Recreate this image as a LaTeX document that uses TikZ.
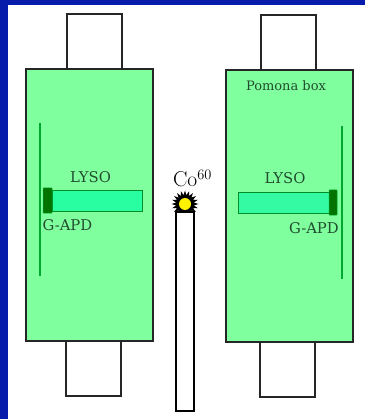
\documentclass[tikz,border=0pt]{standalone}
\usepackage{fontspec}
\newfontfamily\labelfont{DejaVu Serif}
\usetikzlibrary{shapes.geometric}
\definecolor{FrameClr}{rgb}{0.03,0.11,0.67}
\definecolor{BoxClr}{rgb}{0.50,1,0.62}
\definecolor{LysoClr}{rgb}{0.16,1,0.63}
\definecolor{LysoTwoClr}{rgb}{0.20,0.98,0.64}
\definecolor{ApdClr}{rgb}{0,0.45,0}
\definecolor{ShieldClr}{rgb}{0,0.66,0.18}
\definecolor{TextClr}{rgb}{0.13,0.30,0.18}
\tikzset{
  boxline/.style={draw=black!85,line width=1.7pt},
  handle/.style={draw=black!85,line width=1.5pt,fill=white},
  lyso/.style={draw=ShieldClr!85!black,line width=.7pt},
  apd/.style={fill=ApdClr,draw=ShieldClr,line width=.5pt,rounded corners=.5pt},
  shield/.style={draw=ShieldClr,line width=2pt},
  lbl/.style={font=\labelfont\fontsize{14.8}{16}\selectfont,text=TextClr,inner sep=0pt}
}

\begin{document}
\begin{tikzpicture}[x=1pt,y=-1pt]
\useasboundingbox (0,0) rectangle (365,419);
\fill[white] (0,0) rectangle (365,419);
\fill[FrameClr] (0,0) rectangle (365,5);
\fill[FrameClr] (0,0) rectangle (8,419);

% left counter
\draw[handle] (67,14) rectangle (122,69);
\draw[handle] (66,341) rectangle (121,396);
\draw[boxline,fill=BoxClr] (26,69) rectangle (153,341);
\draw[shield] (40,123) -- (40,276);
\draw[lyso,fill=LysoClr] (52,190) rectangle (142,211);
\fill[apd] (43,188) rectangle (52,213);
\node[lbl] (lysoL) at (90.5,177) {LYSO};
\node[lbl] (apdL) at (67.5,225) {G-APD};

% right counter
\draw[handle] (261,15) rectangle (316,70);
\draw[handle] (260,342) rectangle (315,397);
\draw[boxline,fill=BoxClr] (226,70) rectangle (353,342);
\draw[shield] (342,126) -- (342,279);
\draw[lyso,fill=LysoTwoClr] (238,192) rectangle (330,213);
\fill[apd] (329,190) rectangle (337,215);
\node[lbl] (lysoR) at (285,178) {LYSO};
\node[lbl] (apdR) at (314,228) {G-APD};
\node[lbl,font=\labelfont\fontsize{13}{15}\selectfont] (pomona) at (286,86) {Pomona box};

% source
\node[star,star points=20,star point ratio=1.5,fill=black,minimum size=27pt,inner sep=0pt] (burst) at (185,204) {};
\node[circle,fill=yellow,minimum size=12pt,inner sep=0pt] (spot) at (burst) {};
\draw[draw=black,line width=1.6pt,fill=white] (176,212) rectangle (194,411);
\node[inner sep=0pt,font=\fontsize{21.5}{24}\selectfont] (cobalt) at (192.5,178.5) {Co$^{60}$};
\end{tikzpicture}
\end{document}
